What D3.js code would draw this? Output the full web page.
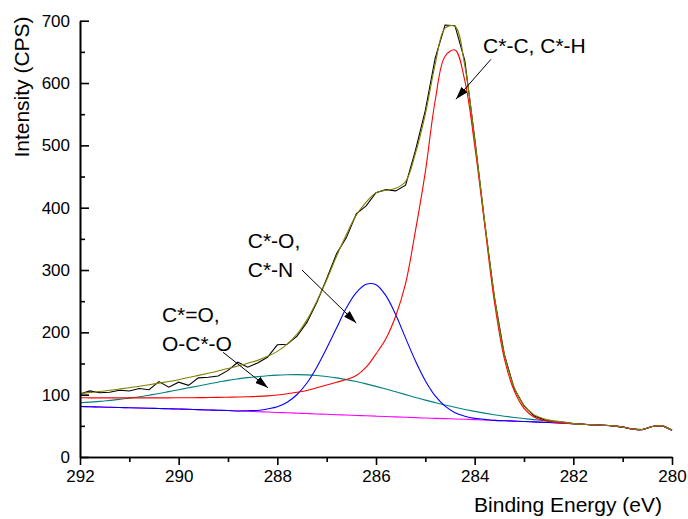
<!DOCTYPE html>
<html>
<head>
<meta charset="utf-8">
<script src="https://cdn.jsdelivr.net/npm/d3@7/dist/d3.min.js"></script>
<style>
    body { margin: 0; background: #fff; }
    svg { display: block; font-family: 'Liberation Sans', Arial, sans-serif; }
    .axis path, .axis line { stroke: #000; stroke-width: 1.6; }
    .axis text { font-size: 17px; fill: #000; font-family: 'Liberation Sans', Arial, sans-serif; }
    .title, .note { font-size: 21px; fill: #000; }
</style>
</head>
<body>
<div class="chart"></div>
<script>
/* global d3 */
(function() {
    'use strict';

    // binding energy grid (eV), high to low
    var energy = [292.0, 291.8, 291.6, 291.4, 291.2, 291.0, 290.8, 290.6, 290.4, 290.2,
        290.0, 289.8, 289.6, 289.4, 289.2, 289.0, 288.8, 288.6, 288.4, 288.2,
        288.0, 287.8, 287.6, 287.4, 287.2, 287.0, 286.8, 286.6, 286.4, 286.2,
        286.0, 285.8, 285.6, 285.4, 285.2, 285.0, 284.8, 284.6, 284.4, 284.2,
        284.0, 283.8, 283.6, 283.4, 283.2, 283.0, 282.8, 282.6, 282.4, 282.2,
        282.0, 281.8, 281.6, 281.4, 281.2, 281.0, 280.8, 280.6, 280.4, 280.2, 280.0];

    // measured spectrum
    var measured = [101, 106, 103, 104, 107, 106, 110, 108, 121, 112,
        120, 115, 127, 128, 130, 139, 152, 144, 151, 160,
        180, 181, 194, 216, 248, 286, 326, 352, 390, 403,
        424, 429, 427, 436, 492, 556, 640, 693, 692, 636,
        512, 378, 256, 165, 110, 82, 66, 60, 56, 55,
        53.5, 52.5, 51.5, 51, 50, 48, 45, 44, 49, 50, 43];

    // fitted envelope
    var envelope = [102, 103.5, 105, 107, 109, 111, 113.5, 116, 118.5, 121,
        124, 127.5, 131, 134.5, 138, 142, 146, 150.5, 155, 161.5,
        169.5, 181, 197, 220, 250, 284, 322, 357, 388, 409,
        424, 428, 431, 442, 487, 550, 630, 688, 691, 628,
        510, 380, 258, 166, 112, 83, 68, 61.5, 58, 56,
        53.5, 52.5, 51.5, 51, 50, 48, 45, 44, 49, 50, 43];

    // C*-C, C*-H component
    var peakCC = [95, 94.9, 94.8, 94.8, 94.8, 94.8, 94.8, 94.8, 94.8, 94.9,
        95, 95.1, 95.2, 95.4, 95.6, 95.9, 96.2, 96.6, 97.2, 98.1,
        99.5, 101.4, 103.8, 106.7, 111.1, 115.5, 119.9, 124.3, 130.7, 144.1,
        165.5, 189.9, 226.3, 278.7, 363.1, 457.5, 572, 643, 653, 604,
        500, 374.4, 248.8, 158.2, 106.6, 78, 64.3, 58.6, 55.9, 54.2,
        53.5, 52.5, 51.5, 51, 50, 48, 45, 44, 49, 50, 43];

    // C*-O, C*-N component
    var peakCO = [81, 80.6, 80.2, 79.8, 79.4, 79, 78.6, 78.2, 77.8, 77.4,
        77, 76.5, 76, 75.5, 75, 74.5, 73.9, 74.3, 74.7, 77.1,
        80.5, 87.9, 100.3, 118.7, 144.1, 174.5, 206.9, 239.3, 263.7, 277.1,
        276.5, 258.9, 228.3, 190.7, 154.1, 122.5, 98, 81.5, 71, 65.5,
        62, 60.4, 58.8, 58.2, 57.6, 57, 56.3, 55.6, 54.9, 54.2,
        53.5, 52.5, 51.5, 51, 50, 48, 45, 44, 49, 50, 43];

    // C*=O, O-C*-O component
    var peakOCO = [87, 88.1, 89.2, 90.8, 92.4, 94.5, 96.6, 99.2, 101.8, 104.9,
        108, 111, 114, 117, 120, 123, 125.3, 127.3, 129, 130.4,
        131.4, 131.9, 132.1, 131.7, 130.8, 129.2, 127, 124.2, 121, 117.3,
        113.3, 109.1, 104.6, 100.1, 95.6, 91.2, 87.2, 83.3, 79.7, 76.3,
        73.2, 70.4, 67.8, 65.5, 63.5, 61.7, 60, 58.5, 57.1, 55.9,
        53.5, 52.5, 51.5, 51, 50, 48, 45, 44, 49, 50, 43];

    // background
    var background = [81, 80.6, 80.2, 79.8, 79.4, 79, 78.6, 78.2, 77.8, 77.4,
        77, 76.5, 76, 75.5, 75, 74.5, 73.9, 73.3, 72.7, 72.1,
        71.5, 70.9, 70.3, 69.7, 69.1, 68.5, 67.9, 67.3, 66.7, 66.1,
        65.5, 64.9, 64.3, 63.7, 63.1, 62.5, 62, 61.5, 61, 60.5,
        60, 59.4, 58.8, 58.2, 57.6, 57, 56.3, 55.6, 54.9, 54.2,
        53.5, 52.5, 51.5, 51, 50, 48, 45, 44, 49, 50, 43];

    var xTicks = [292, 290, 288, 286, 284, 282, 280];
    var xMinor = [291, 289, 287, 285, 283, 281];
    var yTicks = [0, 100, 200, 300, 400, 500, 600, 700];
    var yMinor = [50, 150, 250, 350, 450, 550, 650];

    // labels with arrows, in data units
    var notes = [
        {lines: ['C*-C, C*-H'], at: [283.83, 648], from: [283.67, 638], to: [284.38, 574]},
        {lines: ['C*-O,', 'C*-N'], at: [288.6, 335], from: [287.5, 300], to: [286.4, 215]},
        {lines: ['C*=O,', 'O-C*-O'], at: [290.34, 216], from: [289.1, 168], to: [288.19, 111]}
    ];

    var width = 688;
    var height = 519;
    var margin = {top: 20.7, right: 16, bottom: 62, left: 80};

    var svg = d3.select('.chart').append('svg')
        .attr('width', width)
        .attr('height', height);

    var x = d3.scaleLinear().domain([292, 280]).range([margin.left, width - margin.right]);
    var y = d3.scaleLinear().domain([0, 700]).range([height - margin.bottom, margin.top]);

    svg.append('defs').append('marker')
        .attr('id', 'head')
        .attr('markerUnits', 'userSpaceOnUse')
        .attr('markerWidth', 13)
        .attr('markerHeight', 8)
        .attr('refX', 13)
        .attr('refY', 4)
        .attr('orient', 'auto')
        .append('path')
        .attr('d', 'M0,0L13,4L0,8Z')
        .attr('fill', '#000');

    var smooth = d3.curveCatmullRom.alpha(0.5);
    var series = [
        {values: measured, color: '#000000', curve: d3.curveLinear},
        {values: background, color: '#ff00ff', curve: smooth},
        {values: peakOCO, color: '#008080', curve: smooth},
        {values: peakCO, color: '#0000ff', curve: smooth},
        {values: peakCC, color: '#ff0000', curve: smooth},
        {values: envelope, color: '#808000', curve: smooth}
    ];

    series.forEach(function(s) {
        var line = d3.line()
            .x(function(d, i) { return x(energy[i]); })
            .y(function(d) { return y(d); })
            .curve(s.curve);
        svg.append('path')
            .datum(s.values)
            .attr('fill', 'none')
            .attr('stroke', s.color)
            .attr('stroke-width', 1.1)
            .attr('d', line);
    });

    //axes
    var bottom = height - margin.bottom;
    svg.append('g')
        .attr('class', 'axis')
        .attr('transform', 'translate(0,' + bottom + ')')
        .call(d3.axisBottom(x).tickValues(xMinor).tickSize(5).tickSizeOuter(0).tickFormat(''));
    svg.append('g')
        .attr('class', 'axis')
        .attr('transform', 'translate(0,' + bottom + ')')
        .call(d3.axisBottom(x).tickValues(xTicks).tickSize(8).tickSizeOuter(0).tickPadding(5).tickFormat(d3.format('d')));

    svg.append('g')
        .attr('class', 'axis')
        .attr('transform', 'translate(' + margin.left + ',0)')
        .call(d3.axisLeft(y).tickValues(yMinor).tickSize(-5).tickSizeOuter(0).tickFormat(''));
    svg.append('g')
        .attr('class', 'axis')
        .attr('transform', 'translate(' + margin.left + ',0)')
        .call(d3.axisLeft(y).tickValues(yTicks).tickSize(-9).tickSizeOuter(0).tickPadding(10).tickFormat(d3.format('d')));

    svg.append('text')
        .attr('class', 'title')
        .attr('x', 662)
        .attr('y', 512)
        .attr('text-anchor', 'end')
        .text('Binding Energy (eV)');

    svg.append('text')
        .attr('class', 'title')
        .attr('transform', 'translate(28.5,' + 87 + ') rotate(-90)')
        .attr('text-anchor', 'middle')
        .text('Intensity (CPS)');

    //annotations
    notes.forEach(function(n) {
        var t = svg.append('text')
            .attr('class', 'note')
            .attr('x', x(n.at[0]))
            .attr('y', y(n.at[1]));
        n.lines.forEach(function(l, i) {
            t.append('tspan')
                .attr('x', x(n.at[0]))
                .attr('dy', i === 0 ? 0 : 29)
                .text(l);
        });
        svg.append('line')
            .attr('x1', x(n.from[0]))
            .attr('y1', y(n.from[1]))
            .attr('x2', x(n.to[0]))
            .attr('y2', y(n.to[1]))
            .attr('stroke', '#000')
            .attr('stroke-width', 1)
            .attr('marker-end', 'url(#head)');
    });
})();
</script>
</body>
</html>
